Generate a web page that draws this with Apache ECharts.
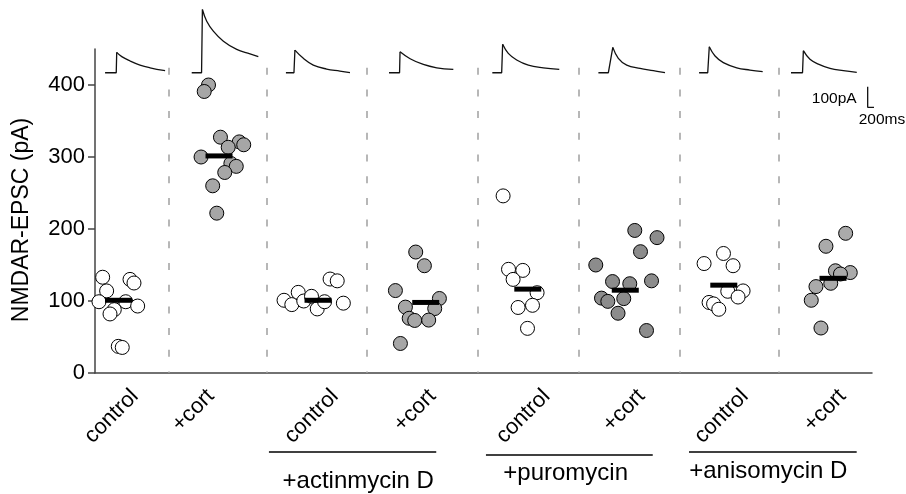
<!DOCTYPE html>
<html><head><meta charset="utf-8">
<script src="https://cdn.jsdelivr.net/npm/echarts@6/dist/echarts.min.js"></script>
<style>html,body{margin:0;padding:0;background:#fff}#c{width:906px;height:494px}</style>
</head><body><div id="c"></div>
<script>
// ---------- data ----------
const categories = ['control', '+cort', 'control', '+cort', 'control', '+cort', 'control', '+cort'];
const groupX = [0, 0.985, 1.955, 3.01, 4.01, 4.965, 5.93, 7.0];
const labelX = [0.162, 0.904, 2.121, 3.076, 4.194, 5.124, 6.137, 7.093];
const separatorX = [0.495, 1.455, 2.435, 3.522, 4.511, 5.501, 6.471];
const yTicks = [0, 100, 200, 300, 400];
const means = [101, 301.5, 101, 98, 116.5, 115, 122, 131.5];

const values1 = [133, 130, 125, 114, 99, 99, 93, 88, 82, 78, 37, 35.5];
const jitter1 = [-0.155, 0.113, 0.152, -0.116, -0.191, 0.071, 0.188, -0.041, -0.083, -0.233, -0.002, 0.037];
const values2 = [400, 391, 327.5, 321, 317, 313.5, 300, 291, 287, 278.5, 260, 222];
const jitter2 = [-0.103, -0.145, 0.014, 0.198, 0.242, 0.090, -0.176, 0.116, 0.169, 0.056, -0.062, -0.022];
const values3 = [101, 95, 112, 100, 106.5, 89, 99, 130.5, 128, 97];
const jitter3 = [-0.333, -0.257, -0.194, -0.140, -0.064, -0.008, 0.064, 0.118, 0.188, 0.248];
const values4 = [168, 149, 114.5, 103.5, 91.5, 89.5, 76, 73, 73.5, 41];
const jitter4 = [-0.098, -0.013, -0.297, 0.134, -0.199, 0.088, -0.162, -0.108, 0.029, -0.248];
const values5 = [246, 144, 142.5, 130, 111.5, 94, 91, 62];
const jitter5 = [-0.242, -0.189, -0.049, -0.144, 0.091, 0.046, -0.095, -0.003];
const values6 = [198, 188, 168.5, 150, 128, 127, 124, 104, 99.5, 103.3, 83, 59];
const jitter6 = [0.093, 0.311, 0.149, -0.289, 0.257, -0.125, 0.044, -0.233, -0.171, -0.015, -0.071, 0.208];
const values7 = [166, 152, 149, 114, 113.5, 105.5, 98, 96, 88.5];
const jitter7 = [-0.003, -0.193, 0.091, 0.189, 0.039, 0.140, -0.144, -0.100, -0.049];
const values8 = [194, 176, 142, 139.5, 137.5, 124.6, 120, 101, 62.5];
const jitter8 = [0.124, -0.069, 0.024, 0.169, 0.073, -0.022, -0.167, -0.213, -0.118];

const groupNames = ['+actinmycin D', '+puromycin', '+anisomycin D'];
const bracketStart = [1.474, 3.600, 5.589];
const bracketEnd = [3.113, 5.234, 7.232];
const groupNameX = [2.349, 4.381, 6.366];

// example traces: [ms from onset, pA]
const trace1 = [[-93, 0], [0, 0], [4, 99], [46, 78], [115, 57], [198, 37], [282, 24], [407, 10]];
const trace2 = [[-82, 0], [0, 0], [7, 307], [43, 250], [98, 202], [182, 153], [293, 113], [404, 92], [473, 78]];
const trace3 = [[-67, 0], [0, 0], [8, 110], [78, 70], [161, 37], [272, 18], [383, 8], [467, 0]];
const trace4 = [[-88, 0], [0, 0], [4, 102], [88, 68], [198, 40], [310, 24], [448, 16]];
const trace5 = [[-78, 0], [0, 0], [8, 138], [55, 94], [125, 62], [222, 37], [347, 24], [480, 16]];
const trace6 = [[-83, 0], [0, 0], [37, 123], [83, 70], [153, 37], [264, 21], [375, 10], [472, 0]];
const trace7 = [[-72, 0], [0, 0], [13, 126], [61, 81], [130, 49], [242, 24], [352, 13], [458, 5]];
const trace8 = [[-96, 0], [0, 0], [7, 107], [62, 65], [132, 42], [229, 21], [340, 10], [452, 2]];
const traceOnsetMs = [177, 888, 1658, 2538, 3389, 4278, 5106, 5896];
const scaleBarOrigin = [6439, -168];
const scaleBarMs = 200;
const scaleBarPA = 100;

// ---------- build ----------
const FONT = "'Liberation Sans', Arial, Helvetica, sans-serif";
const valuesAll = [values1, values2, values3, values4, values5, values6, values7, values8];
const jitterAll = [jitter1, jitter2, jitter3, jitter4, jitter5, jitter6, jitter7, jitter8];
const traces = [trace1, trace2, trace3, trace4, trace5, trace6, trace7, trace8];
const fills = ['#ffffff', '#a6a6a6', '#ffffff', '#a6a6a6', '#ffffff', '#8c8c8c', '#ffffff', '#aaaaaa'];

const chart = echarts.init(document.getElementById('c'), null, { renderer: 'canvas' });

const series = [];
valuesAll.forEach((vals, g) => {
  series.push({
    type: 'scatter', xAxisIndex: 0, yAxisIndex: 0,
    symbol: 'circle', symbolSize: 14,
    itemStyle: { color: fills[g], borderColor: '#000', borderWidth: 1, opacity: 1 },
    data: vals.map((v, i) => [groupX[g] + jitterAll[g][i], v]),
    silent: true, z: 3
  });
});
series.push({
  type: 'scatter', xAxisIndex: 0, yAxisIndex: 0,
  symbol: 'rect', symbolSize: [27, 5],
  itemStyle: { color: '#000', opacity: 1 },
  data: means.map((m, g) => [groupX[g], m]),
  silent: true, z: 5,
  markLine: {
    silent: true, symbol: 'none', animation: false,
    label: { show: false },
    lineStyle: { color: '#a0a0a0', width: 1.5, type: [7, 14.7], opacity: 1 },
    data: separatorX.map(x => [{ coord: [x, 424] }, { coord: [x, 0] }])
  }
});
traces.forEach((tr, k) => {
  const pts = tr.map(p => [traceOnsetMs[k] + p[0], p[1]]);
  series.push({
    type: 'line', xAxisIndex: 1, yAxisIndex: 1, data: pts.slice(0, 3),
    showSymbol: false, clip: false, silent: true,
    lineStyle: { color: '#111', width: 1.3 }
  });
  series.push({
    type: 'line', xAxisIndex: 1, yAxisIndex: 1, data: pts.slice(2),
    showSymbol: false, clip: false, silent: true, smooth: 0.4,
    lineStyle: { color: '#111', width: 1.3 }
  });
});
series.push({
  type: 'line', xAxisIndex: 1, yAxisIndex: 1,
  data: [[scaleBarOrigin[0], scaleBarOrigin[1] + scaleBarPA], scaleBarOrigin, [scaleBarOrigin[0] + scaleBarMs, scaleBarOrigin[1]]],
  showSymbol: false, clip: false, silent: true,
  lineStyle: { color: '#111', width: 1.3 }
});

const option = {
  animation: false,
  backgroundColor: '#fff',
  textStyle: { fontFamily: FONT },
  grid: [
    { left: 95, right: 34, top: 49, bottom: 121, containLabel: false, outerBoundsMode: 'none' },
    { left: 95, right: 34, top: 0, height: 130, containLabel: false, outerBoundsMode: 'none' }
  ],
  xAxis: [
    {
      gridIndex: 0, type: 'value', min: -0.230, max: 7.382,
      axisLine: { show: true, onZero: false, lineStyle: { color: '#444', width: 1.5 } },
      axisTick: { show: false }, splitLine: { show: false },
      axisLabel: {
        customValues: labelX, rotate: 45, margin: 20, fontSize: 22, color: '#000', fontFamily: FONT,
        formatter: v => { const i = labelX.findIndex(x => Math.abs(x - v) < 1e-6); return i >= 0 ? categories[i] : ''; }
      }
    },
    { gridIndex: 1, type: 'value', min: 0, max: 6475, show: false }
  ],
  yAxis: [
    {
      gridIndex: 0, type: 'value', min: 0, max: 450,
      axisLine: { show: true, onZero: false, lineStyle: { color: '#444', width: 1.5 } },
      axisTick: { show: true, customValues: yTicks, length: 7, lineStyle: { color: '#444', width: 1.5 } },
      axisLabel: { customValues: yTicks, fontSize: 22, margin: 10, color: '#000', fontFamily: FONT },
      splitLine: { show: false },
      name: 'NMDAR-EPSC (pA)', nameLocation: 'middle', nameGap: 62, nameMoveOverlap: false,
      nameTextStyle: { fontSize: 23, color: '#000', fontFamily: FONT, padding: [0, 18, 0, 0] }
    },
    { gridIndex: 1, type: 'value', min: -278, max: 353, show: false }
  ],
  series: series
};
chart.setOption(option);

// annotations placed through the axes' own scales
const p0 = (x, y) => chart.convertToPixel({ xAxisIndex: 0, yAxisIndex: 0 }, [x, y]);
const p1 = (x, y) => chart.convertToPixel({ xAxisIndex: 1, yAxisIndex: 1 }, [x, y]);
const bracketY = [452, 455, 452];
const nameY = [481, 473, 471];
const graphics = [];
groupNames.forEach((n, i) => {
  const a = p0(bracketStart[i], 0)[0], b = p0(bracketEnd[i], 0)[0];
  graphics.push({ type: 'line', silent: true, shape: { x1: a, y1: bracketY[i], x2: b, y2: bracketY[i] }, style: { stroke: '#000', lineWidth: 1.3 } });
  graphics.push({ type: 'text', silent: true, x: p0(groupNameX[i], 0)[0], y: nameY[i],
    style: { text: n, fill: '#000', font: '24px ' + FONT, align: 'center', verticalAlign: 'middle' } });
});
const sbTop = p1(scaleBarOrigin[0], scaleBarOrigin[1] + scaleBarPA);
const sbCorner = p1(scaleBarOrigin[0], scaleBarOrigin[1]);
graphics.push({ type: 'text', silent: true, x: sbCorner[0] - 11, y: (sbTop[1] + sbCorner[1]) / 2 + 2,
  style: { text: '100pA', fill: '#000', font: '15.5px ' + FONT, align: 'right', verticalAlign: 'middle' } });
graphics.push({ type: 'text', silent: true, x: sbCorner[0] - 9, y: sbCorner[1] + 12,
  style: { text: '200ms', fill: '#000', font: '15.5px ' + FONT, align: 'left', verticalAlign: 'middle' } });
chart.setOption({ graphic: graphics });
</script></body></html>
